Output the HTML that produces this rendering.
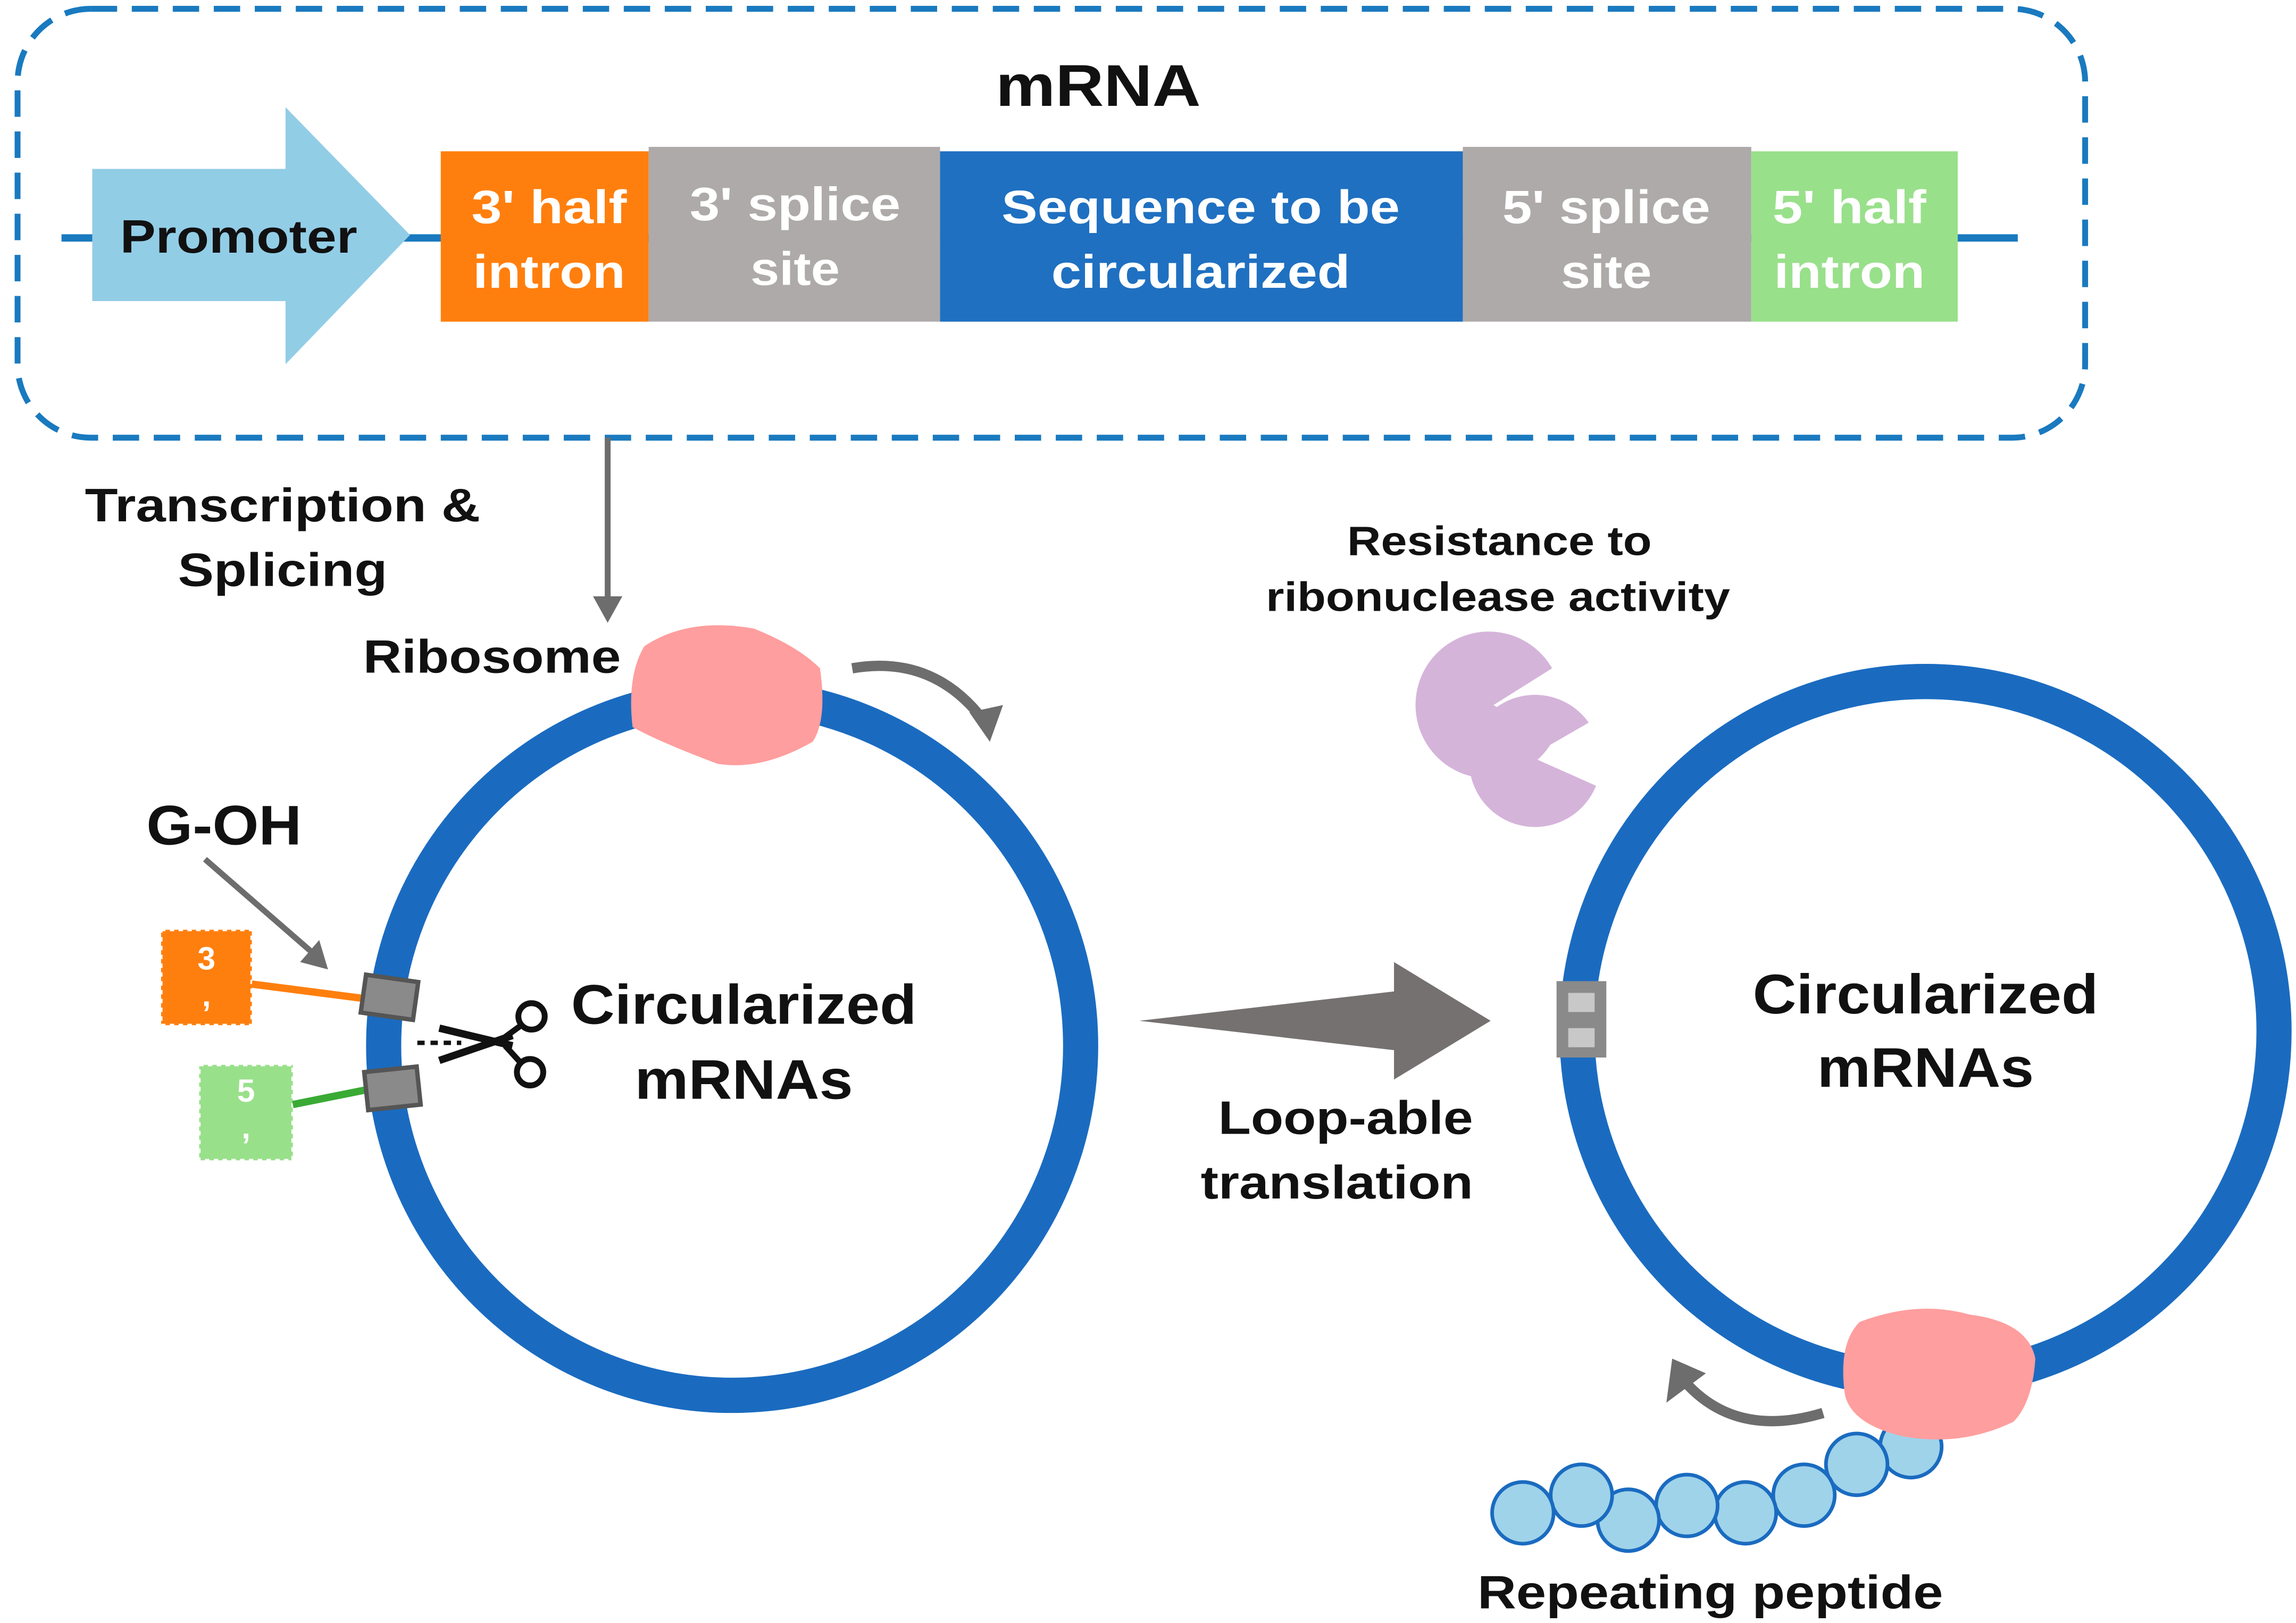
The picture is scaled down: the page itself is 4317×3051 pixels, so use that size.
<!DOCTYPE html>
<html><head><meta charset="utf-8"><style>
html,body{margin:0;padding:0;background:#fff;}
svg{display:block;}
text{font-family:"Liberation Sans",Arial,sans-serif;font-weight:bold;}
</style></head><body>
<svg width="4317" height="3051" viewBox="0 0 1568 1105" preserveAspectRatio="none" xmlns="http://www.w3.org/2000/svg">
<rect x="0" y="0" width="1568" height="1105" fill="#fff"/>
<rect x="12" y="6" width="1412" height="292" rx="50" fill="none" stroke="#1a7abf" stroke-width="4" stroke-dasharray="18,10"/>
<text x="750" y="72" font-size="40" text-anchor="middle" fill="#111" textLength="140" lengthAdjust="spacingAndGlyphs">mRNA</text>
<line x1="42" y1="162" x2="1378" y2="162" stroke="#1a7abf" stroke-width="5"/>
<polygon points="63,115 195,115 195,73 280,160 195,248 195,205 63,205" fill="#92cde6"/>
<text x="163" y="172" font-size="32" text-anchor="middle" fill="#111" textLength="162" lengthAdjust="spacingAndGlyphs">Promoter</text>
<rect x="301" y="103" width="142" height="116" fill="#ff7f0e"/>
<rect x="443" y="100" width="199" height="119" fill="#aeaaaa"/>
<rect x="642" y="103" width="357" height="116" fill="#1f70c1"/>
<rect x="999" y="100" width="197" height="119" fill="#aeaaaa"/>
<rect x="1196" y="103" width="141" height="116" fill="#99e08b"/>
<g font-size="32" fill="#fff" text-anchor="middle" lengthAdjust="spacingAndGlyphs">
<text x="375" y="152" textLength="106" lengthAdjust="spacingAndGlyphs">3' half</text><text x="375" y="196" textLength="104" lengthAdjust="spacingAndGlyphs">intron</text>
<text x="543" y="150" textLength="144" lengthAdjust="spacingAndGlyphs">3' splice</text><text x="543" y="194" textLength="61" lengthAdjust="spacingAndGlyphs">site</text>
<text x="820" y="152" textLength="272" lengthAdjust="spacingAndGlyphs">Sequence to be</text><text x="820" y="196" textLength="204" lengthAdjust="spacingAndGlyphs">circularized</text>
<text x="1097" y="152" textLength="142" lengthAdjust="spacingAndGlyphs">5' splice</text><text x="1097" y="196" textLength="62" lengthAdjust="spacingAndGlyphs">site</text>
<text x="1263" y="152" textLength="105" lengthAdjust="spacingAndGlyphs">5' half</text><text x="1263" y="196" textLength="103" lengthAdjust="spacingAndGlyphs">intron</text>
</g>
<line x1="415" y1="298" x2="415" y2="410" stroke="#6d6d6d" stroke-width="4"/>
<polygon points="405,406 425,406 415,424" fill="#6d6d6d"/>
<g font-size="32" fill="#111">
<text x="58" y="355" textLength="270" lengthAdjust="spacingAndGlyphs">Transcription &amp;</text>
<text x="193" y="399" text-anchor="middle" textLength="143" lengthAdjust="spacingAndGlyphs">Splicing</text>
<text x="336" y="458" text-anchor="middle" textLength="176" lengthAdjust="spacingAndGlyphs">Ribosome</text>
<text x="153" y="575" text-anchor="middle" font-size="38" textLength="106" lengthAdjust="spacingAndGlyphs">G-OH</text>
<text x="919" y="772" text-anchor="middle" textLength="174" lengthAdjust="spacingAndGlyphs">Loop-able</text>
<text x="913" y="816" text-anchor="middle" textLength="186" lengthAdjust="spacingAndGlyphs">translation</text>
<text x="1168" y="1095" text-anchor="middle" textLength="318" lengthAdjust="spacingAndGlyphs">Repeating peptide</text>
</g>
<g font-size="28" fill="#111" text-anchor="middle">
<text x="1024" y="378" textLength="208" lengthAdjust="spacingAndGlyphs">Resistance to</text>
<text x="1023" y="416" textLength="317" lengthAdjust="spacingAndGlyphs">ribonuclease activity</text>
</g>
<circle cx="500" cy="712" r="238" fill="none" stroke="#1a6bc0" stroke-width="24"/>
<path d="M440,440 Q470,420 515,428 Q545,440 560,455 Q565,490 555,505 Q520,525 490,520 Q450,505 432,495 Q428,460 440,440Z" fill="#ff9e9e"/>
<path d="M582,455 Q640,445 675,495" fill="none" stroke="#6d6d6d" stroke-width="7"/>
<polygon points="662,485 685,480 676,505" fill="#6d6d6d"/>
<g font-size="38" fill="#111" text-anchor="middle">
<text x="508" y="697" textLength="236" lengthAdjust="spacingAndGlyphs">Circularized</text><text x="508" y="748" textLength="149" lengthAdjust="spacingAndGlyphs">mRNAs</text>
<text x="1315" y="690" textLength="236" lengthAdjust="spacingAndGlyphs">Circularized</text><text x="1315" y="740" textLength="148" lengthAdjust="spacingAndGlyphs">mRNAs</text>
</g>
<line x1="140" y1="585" x2="215" y2="650" stroke="#6d6d6d" stroke-width="4"/>
<polygon points="205,655 224,660 218,640" fill="#6d6d6d"/>
<rect x="110" y="633" width="62" height="65" fill="#ff7f0e" stroke="#fff" stroke-width="2" stroke-dasharray="3,3"/>
<text x="141" y="660" font-size="22" fill="#fff" text-anchor="middle">3</text>
<text x="141" y="685" font-size="22" fill="#fff" text-anchor="middle">,</text>
<rect x="136" y="725" width="64" height="65" fill="#99e08b" stroke="#fff" stroke-width="2" stroke-dasharray="3,3"/>
<text x="168" y="750" font-size="22" fill="#fff" text-anchor="middle">5</text>
<text x="168" y="775" font-size="22" fill="#fff" text-anchor="middle">,</text>
<line x1="172" y1="670" x2="250" y2="680" stroke="#ff7f0e" stroke-width="5"/>
<line x1="200" y1="752" x2="250" y2="742" stroke="#3aaa35" stroke-width="5"/>
<rect x="248" y="666" width="36" height="26" fill="#8a8a8a" stroke="#555" stroke-width="3" transform="rotate(8 266 679)"/>
<rect x="250" y="728" width="36" height="26" fill="#8a8a8a" stroke="#555" stroke-width="3" transform="rotate(-6 268 741)"/>
<line x1="285" y1="710" x2="315" y2="710" stroke="#111" stroke-width="3" stroke-dasharray="5,4"/>
<path d="M300,700 L350,712 M300,722 L350,705" stroke="#111" stroke-width="5"/>
<circle cx="363" cy="692" r="9" fill="none" stroke="#111" stroke-width="4"/>
<circle cx="362" cy="730" r="9" fill="none" stroke="#111" stroke-width="4"/>
<line x1="345" y1="706" x2="356" y2="698" stroke="#111" stroke-width="4"/>
<line x1="345" y1="712" x2="356" y2="724" stroke="#111" stroke-width="4"/>
<polygon points="778,695 952,675 952,655 1018,695 952,735 952,715" fill="#767171"/>
<path d="M1020,480 L1060,455 A50,50 0 1,0 1060,505 Z" fill="#d5b4da"/>
<path d="M1045,515 L1085,492 A45,45 0 1,0 1090,535 Z" fill="#d5b4da"/>
<circle cx="1315" cy="702" r="238" fill="none" stroke="#1a6bc0" stroke-width="24"/>
<rect x="1063" y="668" width="34" height="52" fill="#8a8a8a"/>
<rect x="1071" y="676" width="18" height="13" fill="#c8c8c8"/>
<rect x="1071" y="700" width="18" height="13" fill="#c8c8c8"/>
<g fill="#9fd3ea" stroke="#1a6bc0" stroke-width="2.5">
<circle cx="1305" cy="985" r="21"/><circle cx="1268" cy="997" r="21"/><circle cx="1232" cy="1018" r="21"/>
<circle cx="1192" cy="1030" r="21"/><circle cx="1152" cy="1025" r="21"/><circle cx="1112" cy="1035" r="21"/>
<circle cx="1080" cy="1018" r="21"/><circle cx="1040" cy="1030" r="21"/>
</g>
<path d="M1270,900 Q1310,885 1345,895 Q1385,900 1390,925 Q1388,955 1375,968 Q1340,985 1300,978 Q1265,970 1260,950 Q1255,915 1270,900Z" fill="#ff9e9e"/>
<path d="M1245,962 Q1185,980 1150,940" fill="none" stroke="#6d6d6d" stroke-width="7"/>
<polygon points="1138,955 1142,925 1165,935" fill="#6d6d6d"/>
</svg>
</body></html>
